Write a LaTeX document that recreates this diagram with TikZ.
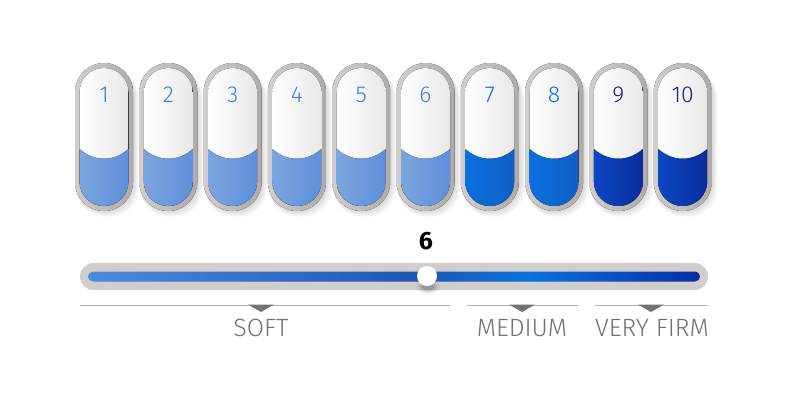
\documentclass[tikz,border=0pt]{standalone}
\usepackage{fontspec}
\setmainfont{Fira Sans}
\newfontfamily\lightfont{Fira Sans Light}
\definecolor{ringl}{HTML}{D2CECE}
\definecolor{ringr}{HTML}{B0ABAB}
\definecolor{capr}{HTML}{E9E8E8}
\definecolor{softl}{HTML}{7CA5DD}
\definecolor{softr}{HTML}{5E8FDD}
\definecolor{midl}{HTML}{0A70DE}
\definecolor{midr}{HTML}{105FC4}
\definecolor{firml}{HTML}{0B48C4}
\definecolor{firmr}{HTML}{0A2C9C}
\definecolor{softtxt}{HTML}{3F7FE0}
\definecolor{midtxt}{HTML}{0A6EE0}
\definecolor{firmtxt}{HTML}{1C1F88}
\definecolor{trackgray}{HTML}{D0CDCD}
\definecolor{linegray}{HTML}{B0B0B0}
\definecolor{tagtxt}{HTML}{727272}
\definecolor{bar1}{HTML}{4B8ADE}
\definecolor{bar2}{HTML}{1F55B3}
\definecolor{bar3}{HTML}{0A72DD}
\definecolor{bar4}{HTML}{0A2EA5}
\pgfdeclarehorizontalshading{barshade}{100bp}{color(0bp)=(bar1); color(25bp)=(bar1); color(52bp)=(bar2); color(61bp)=(bar3); color(75bp)=(bar4); color(100bp)=(bar4)}

\begin{document}
\begin{tikzpicture}[x=1pt,y=-1pt,
  num/.style={font=\lightfont\fontsize{23}{23}\selectfont},
  tag/.style={font=\lightfont\fontsize{25}{25}\selectfont,text=tagtxt},
  tri/.style={fill=tagtxt}]
\useasboundingbox (0,0) rectangle (800,400);
\fill[white] (0,0) rectangle (800,400);
\foreach \n/\fl/\fr/\tc in {1/softl/softr/softtxt,2/softl/softr/softtxt,3/softl/softr/softtxt,4/softl/softr/softtxt,5/softl/softr/softtxt,6/softl/softr/softtxt,7/midl/midr/midtxt,8/midl/midr/midtxt,9/firml/firmr/firmtxt,10/firml/firmr/firmtxt}{
  \pgfmathsetmacro\cx{104+(\n-1)*64.3}
  \foreach \s in {1,...,6}
    \fill[black,opacity=.025,rounded corners=29pt] (\cx-28,64+\s) rectangle (\cx+29+\s,211+\s);
  \fill[left color=ringl,right color=ringr,rounded corners=29pt] (\cx-29,63) rectangle (\cx+29,211);
  \fill[left color=white,right color=capr,rounded corners=24.5pt] (\cx-24.5,68) rectangle (\cx+24.5,206);
  \begin{scope}
    \clip[rounded corners=24.5pt] (\cx-24.5,68) rectangle (\cx+24.5,206);
    \fill[left color=\fl,right color=\fr] (\cx-24.5,149) .. controls (\cx-10,162) and (\cx+10,162) .. (\cx+24.5,149) -- (\cx+25,210) -- (\cx-25,210) -- cycle;
  \end{scope}
  \node[num,text=\tc] (n\n) at (\cx,95) {\n};
}
\fill[trackgray,rounded corners=13.5pt] (80,263) rectangle (708,290);
\shade[shading=barshade,rounded corners=5pt] (88,271.5) rectangle (700,281.5);
\foreach \r/\o in {12/.04,10/.06,8/.08,6/.1}
  \fill[black,opacity=\o] (428,287) ellipse [x radius=\r pt,y radius=.6*\r pt];
\node[circle,fill=white,minimum size=20pt,inner sep=0pt] (knob) at (427,276) {};
\node[font=\bfseries\fontsize{25}{25}\selectfont] (val) at (426,241) {6};
\draw[linegray,line width=1pt] (80,305) -- (450,305);
\draw[linegray,line width=1pt] (467,305) -- (578,305);
\draw[linegray,line width=1pt] (595,305) -- (708,305);
\fill[tri] (248,304.5) -- (274,304.5) -- (261,312) -- cycle;
\fill[tri] (509,304.5) -- (535,304.5) -- (522,312) -- cycle;
\fill[tri] (638,304.5) -- (664,304.5) -- (651,312) -- cycle;
\node[tag] (soft) at (261,328) {SOFT};
\node[tag] (medium) at (522,328) {MEDIUM};
\node[tag] (firm) at (652,328) {VERY FIRM};
\end{tikzpicture}
\end{document}
